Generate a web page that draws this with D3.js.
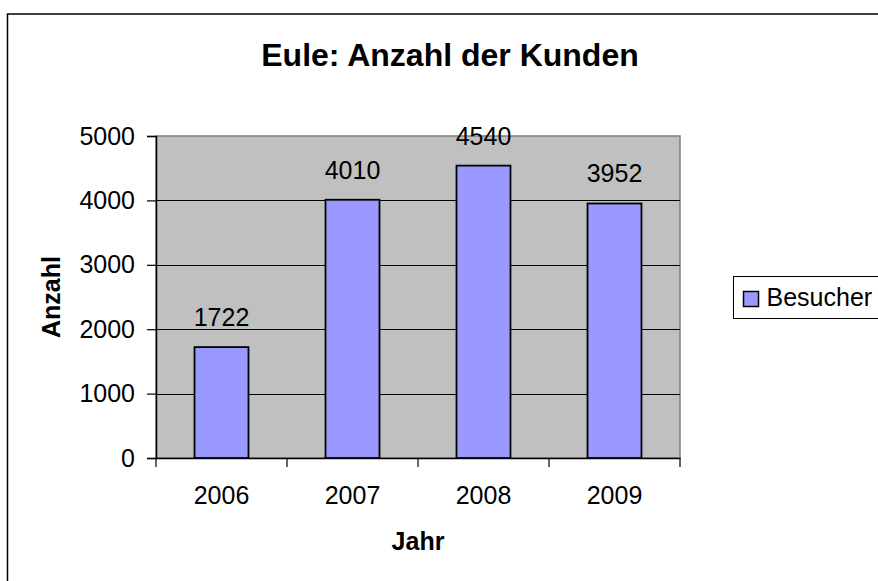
<!DOCTYPE html>
<html lang="de">
<head>
    <meta charset="UTF-8">
    <title>Eule: Anzahl der Kunden</title>
    <script src="https://d3js.org/d3.v7.min.js"></script>
    <style>
        body { margin: 0; background: #fff; }
        text { font-family: Arial, "Liberation Sans", sans-serif; fill: #000; }
    </style>
</head>
<body>
    <svg width="878" height="581"></svg>

    <script>
        // Daten
        const years = ["2006", "2007", "2008", "2009"];
        const besucher = [1722, 4010, 4540, 3952];
        const yTicks = [0, 1000, 2000, 3000, 4000, 5000];

        const svg = d3.select("svg");

        const plot = { left: 156, right: 680, top: 136, bottom: 458 };

        // Rahmen um das ganze Diagramm
        svg.append("rect")
            .attr("x", 7.5).attr("y", 14)
            .attr("width", 1000).attr("height", 700)
            .attr("fill", "#fff")
            .attr("stroke", "#000")
            .attr("stroke-width", 1.5);

        const x = d3.scaleBand()
            .domain(years)
            .range([plot.left, plot.right])
            .paddingInner(0.588)
            .paddingOuter(0.294);

        const y = d3.scaleLinear()
            .domain([0, 5000])
            .range([plot.bottom, plot.top]);

        // Plotfläche
        svg.append("rect")
            .attr("x", plot.left).attr("y", plot.top)
            .attr("width", plot.right - plot.left)
            .attr("height", plot.bottom - plot.top)
            .attr("fill", "#c0c0c0")
            .attr("stroke", "#808080")
            .attr("stroke-width", 1.5);

        // Gitternetzlinien
        svg.append("g")
            .selectAll("line")
            .data(yTicks.filter(d => d > 0 && d < 5000))
            .enter().append("line")
            .attr("x1", plot.left).attr("x2", plot.right)
            .attr("y1", d => Math.round(y(d)) + 0.5)
            .attr("y2", d => Math.round(y(d)) + 0.5)
            .attr("stroke", "#000")
            .attr("stroke-width", 1);

        // Balken
        svg.append("g")
            .selectAll("rect")
            .data(besucher)
            .enter().append("rect")
            .attr("x", (d, i) => x(years[i]))
            .attr("y", d => y(d))
            .attr("width", x.bandwidth())
            .attr("height", d => y(0) - y(d))
            .attr("fill", "#9999ff")
            .attr("stroke", "#000")
            .attr("stroke-width", 1.8);

        // Datenbeschriftungen
        svg.append("g")
            .selectAll("text")
            .data(besucher)
            .enter().append("text")
            .attr("x", (d, i) => x(years[i]) + x.bandwidth() / 2)
            .attr("y", d => y(d) - 21)
            .attr("text-anchor", "middle")
            .style("font-size", "25px")
            .text(d => d);

        // Y-Achse
        const yAxis = svg.append("g")
            .attr("transform", `translate(${plot.left},0)`)
            .call(d3.axisLeft(y).tickValues(yTicks).tickSize(9).tickPadding(12).tickFormat(d3.format("d")));
        yAxis.select(".domain").attr("stroke", "#000").attr("stroke-width", 1.5);
        yAxis.selectAll(".tick line").attr("stroke", "#000").attr("stroke-width", 1.2);
        yAxis.selectAll(".tick text")
            .style("font-size", "25px")
            .style("font-family", "Arial, 'Liberation Sans', sans-serif")
            .attr("fill", "#000");

        // X-Achse
        const xAxis = svg.append("g")
            .attr("transform", `translate(0,${plot.bottom})`)
            .call(d3.axisBottom(x).tickSize(0).tickPadding(28).tickSizeOuter(0));
        xAxis.select(".domain").attr("stroke", "#000").attr("stroke-width", 1.5);
        xAxis.selectAll(".tick text")
            .style("font-size", "25px")
            .style("font-family", "Arial, 'Liberation Sans', sans-serif")
            .attr("fill", "#000");

        // Teilstriche zwischen den Kategorien
        xAxis.selectAll(".sep")
            .data(d3.range(years.length + 1))
            .enter().append("line")
            .attr("class", "sep")
            .attr("x1", i => plot.left + i * x.step())
            .attr("x2", i => plot.left + i * x.step())
            .attr("y1", 0).attr("y2", 9)
            .attr("stroke", "#000")
            .attr("stroke-width", 1.2);

        // Titel
        svg.append("text")
            .attr("x", 450).attr("y", 66)
            .attr("text-anchor", "middle")
            .style("font-size", "32px")
            .style("font-weight", "bold")
            .text("Eule: Anzahl der Kunden");

        svg.append("text")
            .attr("transform", "translate(60,297) rotate(-90)")
            .attr("text-anchor", "middle")
            .style("font-size", "25px")
            .style("font-weight", "bold")
            .text("Anzahl");

        svg.append("text")
            .attr("x", 418).attr("y", 550)
            .attr("text-anchor", "middle")
            .style("font-size", "25px")
            .style("font-weight", "bold")
            .text("Jahr");

        // Legende
        const legend = svg.append("g").attr("transform", "translate(733.5,276.5)");
        legend.append("rect")
            .attr("width", 300).attr("height", 42)
            .attr("fill", "#fff")
            .attr("stroke", "#000")
            .attr("stroke-width", 1);
        legend.append("rect")
            .attr("x", 10).attr("y", 15)
            .attr("width", 15).attr("height", 15)
            .attr("fill", "#9999ff")
            .attr("stroke", "#000")
            .attr("stroke-width", 1.5);
        legend.append("text")
            .attr("x", 33).attr("y", 29)
            .style("font-size", "25px")
            .text("Besucher");
    </script>
</body>
</html>
